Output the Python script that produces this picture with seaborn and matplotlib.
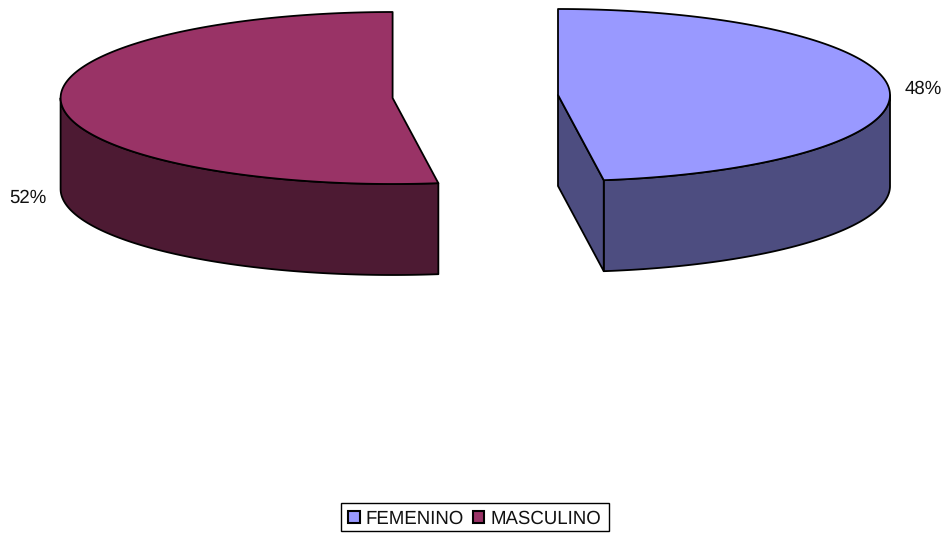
import numpy as np
import matplotlib
matplotlib.use('Agg')
import matplotlib.pyplot as plt
from matplotlib.patches import Patch, Polygon, Rectangle
import seaborn as sns

categories = ['FEMENINO', 'MASCULINO']
shares = [47.8, 52.2]
labels = ['48%', '52%']
palette = ['#9999FF', '#993366']
side_palette = ['#4D4D80', '#4D1A33']

# where each exploded slice has its tip, in pixels
tips = [(558, 95), (392.6, 98)]
RX, RY, DEPTH = 332, 86, 91

sns.set_theme(style='white')
plt.rcParams['font.family'] = ['Liberation Sans', 'DejaVu Sans']
plt.rcParams['text.hinting'] = 'none'


def rim(cx, cy, start, stop, dy=0):
    # angles run clockwise from the top of the ellipse
    t = np.radians(np.linspace(start, stop, 200))
    return np.column_stack([cx + RX * np.sin(t), cy - RY * np.cos(t) + dy])


fig, ax = plt.subplots(figsize=(9.48, 5.33), dpi=100)
fig.subplots_adjust(0, 0, 1, 1)
ax.set_xlim(0, 948)
ax.set_ylim(533, 0)
ax.axis('off')

edge = dict(edgecolor='black', linewidth=1.3, joinstyle='round')
fractions = np.cumsum([0] + shares) / sum(shares) * 360

for i in range(len(categories)):
    start, stop = fractions[i], fractions[i + 1]
    cx, cy = tips[i]

    # outer wall, only the part that faces the viewer (90 to 270 degrees)
    lo, hi = max(start, 90), min(stop, 270)
    top_edge = rim(cx, cy, lo, hi)
    low_edge = rim(cx, cy, lo, hi, DEPTH)[::-1]
    ax.add_patch(Polygon(np.vstack([top_edge, low_edge]), facecolor=side_palette[i], **edge))

    # cut wall, visible for the slice whose straight edge turns to the viewer
    if stop < 180:
        p = rim(cx, cy, stop, stop)[0]
        wall = [(cx, cy), p, (p[0], p[1] + DEPTH), (cx, cy + DEPTH)]
        ax.add_patch(Polygon(wall, facecolor=side_palette[i], **edge))

    # top face
    face = np.vstack([[(cx, cy)], rim(cx, cy, start, stop)])
    ax.add_patch(Polygon(face, facecolor=palette[i], **edge))

text_size = 13.4
ax.text(923, 89, labels[0], ha='center', va='center', fontsize=text_size, color='#111111')
ax.text(28, 198, labels[1], ha='center', va='center', fontsize=text_size, color='#111111')

# the box sits a little lower than the legend would put it, so it is drawn apart
ax.add_patch(Rectangle((341.5, 502.5), 268, 28.5, facecolor='white', edgecolor='black', linewidth=1.0))
handles = [Patch(facecolor=c, edgecolor='black', linewidth=1.5) for c in palette]
ax.legend(handles, categories, ncol=2, loc='center', bbox_to_anchor=(474.5, 518.5),
          bbox_transform=ax.transData, fontsize=text_size, frameon=False,
          handlelength=0.62, handleheight=0.62, handletextpad=0.3,
          columnspacing=0.5, borderpad=0, borderaxespad=0, labelcolor='#111111')

fig.savefig('out.png', dpi=100)
